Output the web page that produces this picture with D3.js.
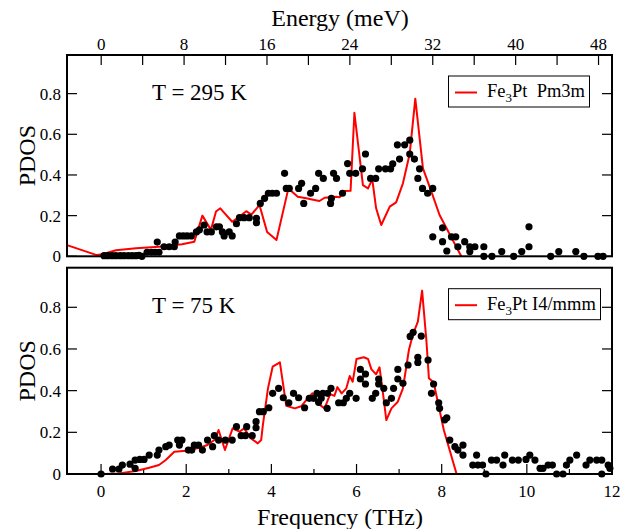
<!DOCTYPE html>
<html>
<head>
<meta charset="utf-8">
<script src="https://cdn.jsdelivr.net/npm/d3@7"></script>
<style>
  body { margin: 0; background: #fff; }
  text { font-family: "Liberation Serif", "Times New Roman", serif; fill: #000; }
</style>
</head>
<body>
<div id="chart"></div>
<script>
// tick values
const freqTicks = [0, 2, 4, 6, 8, 10, 12]
const freqMinor = [1, 3, 5, 7, 9, 11]
const energyTicks = [0, 4, 8, 12, 16, 20, 24, 28, 32, 36, 40, 44, 48]
const energyLabels = [0, 8, 16, 24, 32, 40, 48]
const dosTicks = [0, 0.2, 0.4, 0.6, 0.8]

// T = 295 K : calculated PDOS (Pm3m) [THz, PDOS]
const line295 = [[-0.8,0.055],[-0.1,0.006],[0.03,0.01],[0.35,0.03],[0.82,0.04],[1.36,0.047],[1.9,0.059],
  [2.19,0.072],[2.38,0.2],[2.58,0.13],[2.7,0.22],[2.8,0.236],[3.08,0.17],[3.25,0.195],[3.41,0.222],
  [3.53,0.205],[3.72,0.252],[3.9,0.12],[4.12,0.08],[4.4,0.334],[4.62,0.293],[4.82,0.285],[5.01,0.277],
  [5.13,0.272],[5.25,0.288],[5.52,0.293],[5.6,0.29],[5.72,0.321],[5.86,0.322],[5.95,0.706],[6.15,0.35],
  [6.27,0.334],[6.37,0.378],[6.46,0.236],[6.58,0.154],[6.78,0.244],[6.93,0.265],[7.09,0.359],[7.25,0.506],
  [7.38,0.775],[7.56,0.432],[7.76,0.317],[7.95,0.203],[8.46,0.0]]

// T = 295 K : measured PDOS
const dots295 = [[0.07,0.003],[0.16,0.003],[0.26,0.003],[0.35,0.003],[0.45,0.003],[0.54,0.003],[0.64,0.003],
  [0.73,0.003],[0.82,0.003],[0.89,0.005],[0.96,0.0],[1.08,0.02],[1.18,0.02],[1.27,0.02],[1.32,0.07],[1.36,0.02],
  [1.48,0.047],[1.6,0.047],[1.72,0.047],[1.74,0.07],[1.84,0.1],[1.93,0.1],[2.02,0.1],[2.12,0.1],[2.24,0.12],
  [2.31,0.13],[2.42,0.154],[2.49,0.12],[2.59,0.12],[2.71,0.145],[2.78,0.145],[2.85,0.12],[2.89,0.1],[3.01,0.12],
  [3.08,0.1],[3.18,0.16],[3.25,0.19],[3.36,0.19],[3.48,0.19],[3.65,0.187],[3.65,0.165],[3.74,0.26],[3.84,0.285],
  [3.93,0.31],[4.02,0.31],[4.12,0.31],[4.31,0.408],[4.35,0.334],[4.42,0.334],[4.64,0.334],[4.71,0.359],
  [4.76,0.26],[4.92,0.31],[5.04,0.334],[5.11,0.408],[5.22,0.383],[5.39,0.26],[5.41,0.285],[5.46,0.408],
  [5.53,0.383],[5.67,0.31],[5.79,0.456],[5.84,0.408],[5.98,0.408],[6.14,0.43],[6.21,0.503],[6.33,0.383],
  [6.45,0.383],[6.52,0.43],[6.68,0.43],[6.8,0.43],[6.85,0.455],[6.96,0.548],[7.01,0.478],[7.13,0.548],
  [7.25,0.571],[7.25,0.503],[7.36,0.478],[7.44,0.383],[7.48,0.43],[7.55,0.334],[7.67,0.31],[7.79,0.334],
  [7.79,0.096],[8.02,0.14],[8.02,0.072],[8.12,0.026],[8.23,0.096],[8.33,0.096],[8.38,0.047],[8.54,0.072],
  [8.66,0.047],[8.66,0.023],[8.78,0.047],[8.99,0.047],[8.99,0.0],[9.18,0.0],[9.41,0.023],[9.69,0.0],
  [9.88,0.023],[10.05,0.047],[10.05,0.145],[10.56,0.0],[10.75,0.023],[11.15,0.023],[11.34,0.0],[11.67,0.0],
  [11.79,0.0]]

// T = 75 K : calculated PDOS (I4/mmm)
const line75 = [[0.1,0.0],[0.42,0.003],[0.82,0.014],[1.13,0.03],[1.36,0.043],[1.52,0.067],[1.72,0.107],
  [2.0,0.112],[2.31,0.126],[2.5,0.139],[2.66,0.163],[2.76,0.211],[2.91,0.115],[3.09,0.219],[3.25,0.203],
  [3.36,0.219],[3.52,0.171],[3.68,0.147],[3.76,0.163],[3.8,0.235],[3.92,0.411],[4.03,0.515],[4.2,0.536],
  [4.35,0.327],[4.55,0.315],[4.7,0.325],[4.82,0.355],[4.96,0.387],[5.05,0.345],[5.25,0.315],[5.38,0.383],
  [5.48,0.375],[5.55,0.417],[5.65,0.387],[5.76,0.411],[5.84,0.47],[5.91,0.443],[6.0,0.552],[6.17,0.56],
  [6.27,0.552],[6.35,0.502],[6.46,0.479],[6.54,0.512],[6.6,0.422],[6.7,0.259],[6.82,0.315],[6.97,0.347],
  [7.09,0.411],[7.23,0.595],[7.32,0.667],[7.44,0.731],[7.54,0.88],[7.64,0.643],[7.7,0.459],[7.81,0.44],
  [8.05,0.211],[8.35,0.0]]

// T = 75 K : measured PDOS
const dots75 = [[0.0,0.0],[0.27,0.024],[0.42,0.024],[0.5,0.043],[0.68,0.047],[0.8,0.067],[0.8,0.027],
  [0.91,0.07],[1.01,0.07],[1.13,0.091],[1.32,0.091],[1.36,0.115],[1.52,0.131],[1.6,0.139],[1.8,0.163],
  [1.84,0.139],[1.9,0.163],[2.05,0.115],[2.13,0.115],[2.19,0.139],[2.29,0.139],[2.38,0.115],[2.5,0.163],
  [2.62,0.131],[2.66,0.184],[2.76,0.163],[2.92,0.163],[3.08,0.163],[3.18,0.227],[3.29,0.184],[3.39,0.184],
  [3.42,0.227],[3.55,0.184],[3.64,0.251],[3.64,0.222],[3.72,0.299],[3.81,0.299],[3.94,0.318],[4.03,0.387],
  [4.17,0.411],[4.28,0.366],[4.41,0.342],[4.52,0.387],[4.64,0.366],[4.78,0.318],[4.89,0.363],[4.99,0.363],
  [5.07,0.387],[5.11,0.344],[5.17,0.363],[5.21,0.387],[5.31,0.315],[5.32,0.387],[5.4,0.411],[5.58,0.342],
  [5.69,0.342],[5.76,0.363],[5.84,0.387],[5.99,0.363],[6.09,0.502],[6.09,0.456],[6.21,0.48],[6.21,0.432],
  [6.37,0.363],[6.45,0.387],[6.52,0.456],[6.52,0.432],[6.64,0.411],[6.7,0.342],[6.82,0.363],[6.87,0.411],
  [6.97,0.456],[6.97,0.502],[7.09,0.435],[7.21,0.523],[7.26,0.66],[7.33,0.68],[7.44,0.535],[7.44,0.56],
  [7.52,0.662],[7.68,0.547],[7.76,0.387],[7.81,0.432],[7.93,0.342],[7.95,0.315],[8.07,0.26],[8.12,0.27],
  [8.19,0.163],[8.31,0.131],[8.38,0.115],[8.5,0.139],[8.5,0.091],[8.73,0.043],[8.82,0.091],[8.85,0.043],
  [8.96,0.043],[9.04,0.0],[9.17,0.067],[9.29,0.067],[9.44,0.043],[9.48,0.091],[9.66,0.067],[9.8,0.067],
  [9.98,0.07],[10.07,0.091],[10.19,0.067],[10.31,0.027],[10.38,0.027],[10.5,0.043],[10.6,0.043],[10.7,0.0],
  [10.85,0.0],[10.93,0.043],[11.01,0.067],[11.17,0.091],[11.39,0.043],[11.48,0.067],[11.64,0.067],
  [11.76,0.067],[11.76,0.0],[11.91,0.043],[11.95,0.027]]

const W = 631, H = 529
const left = 67, right = 612

const svg = d3.select('#chart').append('svg')
  .attr('width', W).attr('height', H)

const x = d3.scaleLinear().domain([-0.8, 12]).range([left, right])
const xe = d3.scaleLinear().domain([-3.3, 49.3]).range([left, right])

const panels = [
  {top: 55, bottom: 256.3, line: line295, dots: dots295, label: 'T = 295 K', phase: 'Pm3m', gap: '\u00a0\u00a0', legendW: 141},
  {top: 267.7, bottom: 474, line: line75, dots: dots75, label: 'T = 75 K', phase: 'I4/mmm', gap: '\u00a0', legendW: 152}
]

panels.forEach((p, i) => {
  const y = d3.scaleLinear().domain([0, 0.99]).range([p.bottom, p.top])
  const g = svg.append('g')

  // y ticks left and right
  dosTicks.forEach(t => {
    g.append('line').attr('x1', left).attr('x2', left + 10).attr('y1', y(t)).attr('y2', y(t))
      .attr('stroke', '#000').attr('stroke-width', 1.2)
    g.append('line').attr('x1', right - 10).attr('x2', right).attr('y1', y(t)).attr('y2', y(t))
      .attr('stroke', '#000').attr('stroke-width', 1.2)
    g.append('text').attr('x', 61).attr('y', y(t) + 6)
      .attr('text-anchor', 'end').attr('font-size', 17)
      .text(t === 0 ? '0' : d3.format('.1f')(t))
  })

  if (i === 0) {
    energyTicks.forEach(t => {
      g.append('line').attr('x1', xe(t)).attr('x2', xe(t)).attr('y1', p.top).attr('y2', p.top + 10)
        .attr('stroke', '#000').attr('stroke-width', 1.2)
    })
    energyLabels.forEach(t => {
      g.append('text').attr('x', xe(t)).attr('y', 50)
        .attr('text-anchor', 'middle').attr('font-size', 17).text(t)
    })
    svg.append('text').attr('x', 340).attr('y', 26)
      .attr('text-anchor', 'middle').attr('font-size', 24).text('Energy (meV)')
  } else {
    freqTicks.forEach(t => {
      g.append('line').attr('x1', x(t)).attr('x2', x(t)).attr('y1', p.bottom - 10).attr('y2', p.bottom)
        .attr('stroke', '#000').attr('stroke-width', 1.2)
      g.append('text').attr('x', x(t)).attr('y', 497)
        .attr('text-anchor', 'middle').attr('font-size', 17).text(t)
    })
    freqMinor.forEach(t => {
      g.append('line').attr('x1', x(t)).attr('x2', x(t)).attr('y1', p.bottom - 5).attr('y2', p.bottom)
        .attr('stroke', '#000').attr('stroke-width', 1.2)
    })
    svg.append('text').attr('x', 340).attr('y', 525)
      .attr('text-anchor', 'middle').attr('font-size', 24).text('Frequency (THz)')
  }

  // y title
  const cy = (p.top + p.bottom) / 2
  svg.append('text').attr('transform', `translate(35,${cy}) rotate(-90)`)
    .attr('text-anchor', 'middle').attr('font-size', 24).text('PDOS')

  // calculated line
  g.append('path').datum(p.line)
    .attr('d', d3.line().x(d => x(d[0])).y(d => y(d[1])))
    .attr('fill', 'none').attr('stroke', '#ff0000').attr('stroke-width', 2)
    .attr('stroke-linejoin', 'round')

  // measured points
  g.selectAll('.pt').data(p.dots).enter().append('circle')
    .attr('class', 'pt')
    .attr('cx', d => x(d[0])).attr('cy', d => y(d[1])).attr('r', 3.6)
    .attr('fill', '#000')

  // frame
  g.append('rect').attr('x', left).attr('y', p.top)
    .attr('width', right - left).attr('height', p.bottom - p.top)
    .attr('fill', 'none').attr('stroke', '#000').attr('stroke-width', 2)

  // temperature label
  g.append('text').attr('x', 152).attr('y', p.top + 45)
    .attr('font-size', 23).text(p.label)

  // legend
  const ly = p.top + 21
  g.append('rect').attr('x', 448.5).attr('y', ly).attr('width', p.legendW).attr('height', 31)
    .attr('fill', '#fff').attr('stroke', '#000').attr('stroke-width', 1)
  g.append('line').attr('x1', 455).attr('x2', 477).attr('y1', ly + 16.5).attr('y2', ly + 16.5)
    .attr('stroke', '#ff0000').attr('stroke-width', 2)
  const t = g.append('text').attr('x', 487).attr('y', ly + 21).attr('font-size', 18.5)
  t.append('tspan').text('Fe')
  t.append('tspan').attr('font-size', 13).attr('dy', 5).text('3')
  t.append('tspan').attr('dy', -5).text('Pt' + p.gap + p.phase)
})
</script>
</body>
</html>
